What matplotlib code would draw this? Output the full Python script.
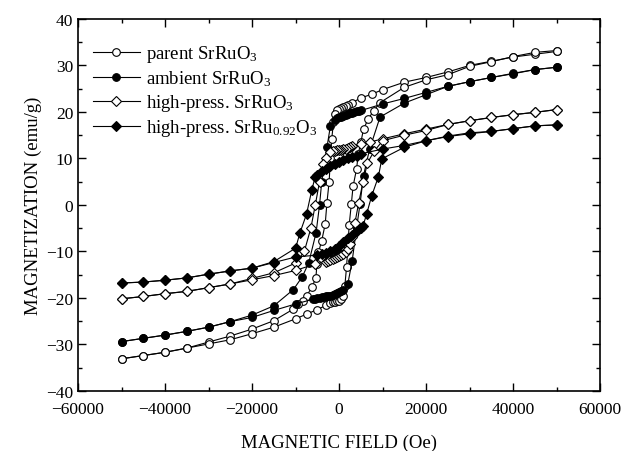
import matplotlib
matplotlib.use("Agg")
import matplotlib.pyplot as plt
from matplotlib.ticker import MultipleLocator

plt.rcParams['font.family'] = ['Liberation Serif', 'DejaVu Serif']
plt.rcParams['mathtext.fontset'] = 'custom'
plt.rcParams['mathtext.rm'] = 'Liberation Serif'
plt.rcParams['mathtext.default'] = 'regular'

# parent SrRuO3 (open circles)
parent_h_down = [50000, 45000, 40000, 35000, 30000, 25000, 20000, 15000, 10000, 7500, 5000, 3000, 2000,
                 1500, 1000, 500, 0, -500, -1000, -1300, -1700, -2000, -2300, -2800, -3200, -4000,
                 -4750, -5100, -5350, -6300, -7400, -8350, -9350, -10500, -15000, -20000, -25000,
                 -30000, -35000, -40000, -45000, -50000]
parent_m_down = [33.0, 32.4, 31.8, 30.9, 30.0, 28.6, 27.4, 26.4, 24.8, 23.8, 23.0, 22.0, 21.5,
                 21.2, 21.0, 20.8, 20.6, 20.4, 19.6, 17.8, 14.2, 10.0, 5.0, 0.5, -4.1, -7.7,
                 -10.2, -12.7, -15.8, -17.7, -19.5, -20.6, -21.3, -22.4, -24.9, -26.7, -28.2,
                 -29.5, -30.8, -31.7, -32.4, -33.1]
parent_h_up = [-50000, -45000, -40000, -35000, -30000, -25000, -20000, -15000, -10000, -7500, -5000,
               -3000, -2000, -1500, -1000, -500, 0, 500, 1000, 1300, 1700, 2000, 2300, 2800, 3200,
               4000, 4400, 5000, 5600, 6700, 7900, 9400, 15000, 20000, 25000, 30000, 35000, 40000,
               45000, 50000]
parent_m_up = [-33.1, -32.4, -31.7, -30.8, -29.9, -29.0, -27.7, -26.3, -24.5, -23.5, -22.5,
               -21.6, -21.1, -20.9, -20.8, -20.7, -20.6, -20.2, -19.5, -17.5, -13.4, -9.0, -4.4, 0.2,
               4.0, 7.7, 11.0, 13.5, 16.3, 18.5, 20.2, 22.0, 25.3, 26.9, 28.0, 29.8, 30.8, 31.9,
               32.8, 33.2]

# ambient SrRuO3 (filled circles)
amb_h_down = [50000, 45000, 40000, 35000, 30000, 25000, 20000, 15000, 10000, 5000, 4500, 4000, 3500,
              3000, 2500, 2000, 1500, 1000, 500, 0, -500, -1000, -2000, -2800, -4000, -4500, -5300,
              -7000, -8500, -10500, -15000, -20000, -25000, -30000, -35000, -40000, -45000, -50000]
amb_m_down = [29.6, 29.1, 28.3, 27.4, 26.5, 25.5, 24.2, 22.9, 21.7, 20.3, 20.2, 20.1, 20.0,
              19.8, 19.7, 19.5, 19.4, 19.2, 19.0, 18.8, 18.6, 18.3, 17.0, 12.4, 5.0, 0.0, -6.0,
              -12.5, -15.5, -18.2, -21.7, -23.7, -25.1, -26.3, -27.2, -28.0, -28.7, -29.4]
amb_h_up = [-50000, -45000, -40000, -35000, -30000, -25000, -20000, -15000, -10000, -6000, -5500,
            -5000, -4500, -4000, -3500, -3000, -2500, -2000, -1500, -1000, -500, 0, 500, 1000, 2000,
            3000, 4000, 4800, 5600, 7000, 9400, 15000, 20000, 25000, 30000, 35000, 40000, 45000, 50000]
amb_m_up = [-29.4, -28.7, -28.0, -27.2, -26.3, -25.1, -24.2, -22.7, -21.3, -20.3, -20.2,
            -20.1, -20.0, -19.9, -19.8, -19.7, -19.6, -19.5, -19.4, -19.2, -19.0, -18.8, -18.6, -18.3,
            -17.0, -12.0, -5.0, 0.2, 6.3, 12.0, 18.9, 21.9, 23.7, 25.5, 26.5, 27.4, 28.2, 29.1, 29.6]

# high-press. SrRuO3 (open diamonds)
hp_h_down = [50000, 45000, 40000, 35000, 30000, 25000, 20000, 15000, 10000, 7000, 5000, 3000, 2500,
             2000, 1500, 1000, 500, 0, -500, -1000, -1500, -2000, -3000, -3600, -4500, -5500, -6500,
             -8000, -10000, -15000, -20000, -25000, -30000, -35000, -40000, -45000, -50000]
hp_m_down = [20.5, 19.9, 19.4, 18.8, 18.1, 17.3, 16.3, 15.3, 14.2, 13.5, 13.0, 12.6, 12.4,
             12.3, 12.1, 12.0, 11.9, 11.8, 11.7, 11.6, 11.5, 11.4, 10.0, 8.8, 5.0, -0.1, -5.0,
             -10.0, -12.5, -14.6, -15.8, -17.0, -17.8, -18.6, -19.1, -19.7, -20.2]
hp_h_up = [-50000, -45000, -40000, -35000, -30000, -25000, -20000, -15000, -10000, -5500, -3000,
           -2500, -2000, -1500, -1000, -500, 0, 500, 1000, 1500, 2000, 2500, 3000, 3600, 4500, 5500,
           6500, 8000, 10000, 15000, 20000, 25000, 30000, 35000, 40000, 45000, 50000]
hp_m_up = [-20.2, -19.7, -19.1, -18.6, -17.8, -17.0, -16.1, -15.2, -14.1, -12.7, -12.2,
           -12.0, -11.8, -11.6, -11.4, -11.2, -11.0, -10.8, -10.5, -10.2, -9.5, -8.5, -7.0, -4.0,
           0.5, 5.0, 9.0, 11.5, 13.8, 15.0, 16.0, 17.3, 18.1, 18.8, 19.4, 19.9, 20.5]

# high-press. SrRu0.92O3 (filled diamonds)
hp92_h_down = [50000, 45000, 40000, 35000, 30000, 25000, 20000, 15000, 10000, 5000, 4000, 3000, 2000,
               1000, 0, -1000, -2000, -3000, -4000, -5000, -5500, -6300, -7500, -9000, -10000,
               -15000, -20000, -25000, -30000, -35000, -40000, -45000, -50000]
hp92_m_down = [17.2, 17.0, 16.4, 15.8, 15.3, 14.7, 13.8, 12.8, 12.0, 11.0, 10.6, 10.3, 10.0,
               9.6, 9.2, 8.8, 8.3, 7.8, 7.2, 6.5, 6.1, 3.1, -2.0, -6.0, -9.3,
               -12.2, -13.6, -14.2, -14.9, -15.7, -16.2, -16.6, -16.8]
hp92_h_up = [-50000, -45000, -40000, -35000, -30000, -25000, -20000, -15000, -10000, -5000, -4000,
             -3000, -2000, -1000, 0, 1000, 2000, 3000, 4000, 5000, 5500, 6300, 7500, 9000, 9800,
             15000, 20000, 25000, 30000, 35000, 40000, 45000, 50000]
hp92_m_up = [-16.8, -16.6, -16.2, -15.7, -14.9, -14.2, -13.6, -12.4, -11.2, -10.8, -10.5,
             -10.3, -10.0, -9.4, -8.8, -8.0, -7.2, -6.4, -5.6, -5.0, -4.5, -2.0, 2.0, 6.0, 9.9,
             12.4, 13.8, 14.8, 15.5, 15.8, 16.4, 17.0, 17.2]

series = [
    ('parent SrRuO$_3$', parent_h_down, parent_m_down, parent_h_up, parent_m_up, 'o', 'white', 5.5),
    ('ambient SrRuO$_3$', amb_h_down, amb_m_down, amb_h_up, amb_m_up, 'o', 'black', 5.5),
    ('high-press. SrRuO$_3$', hp_h_down, hp_m_down, hp_h_up, hp_m_up, 'D', 'white', 5),
    ('high-press. SrRu$_{0.92}$O$_3$', hp92_h_down, hp92_m_down, hp92_h_up, hp92_m_up, 'D', 'black', 5),
]

fig, ax = plt.subplots(figsize=(6.24, 4.52), dpi=100)
fig.subplots_adjust(left=0.125, right=0.962, top=0.956, bottom=0.133)

for label, hd, md, hu, mu, mk, fc, ms in series:
    ax.plot(hd, md, '-', color='black', lw=0.8, marker=mk, mfc=fc, mec='black',
            ms=ms, mew=0.8, label=label)
    ax.plot(hu, mu, '-', color='black', lw=0.8, marker=mk, mfc=fc, mec='black',
            ms=ms, mew=0.8)

ax.set_xlim(-60000, 60000)
ax.set_ylim(-40, 40)
ax.xaxis.set_major_locator(MultipleLocator(20000))
ax.xaxis.set_minor_locator(MultipleLocator(10000))
ax.yaxis.set_major_locator(MultipleLocator(10))
ax.yaxis.set_minor_locator(MultipleLocator(5))
ax.tick_params(which='both', direction='in', top=True, right=True, labelsize=12.5, width=1)
ax.tick_params(which='major', length=6)
ax.tick_params(which='minor', length=3)
ax.tick_params(axis='x', pad=7)
for sp in ax.spines.values():
    sp.set_linewidth(1.2)

ax.set_xlabel('MAGNETIC FIELD (Oe)', fontsize=13.5, labelpad=12)
ax.set_ylabel('MAGNETIZATION (emu/g)', fontsize=13.5, labelpad=3)

ax.legend(loc='upper left', frameon=False, fontsize=13.5, handlelength=2.5,
          handletextpad=0.3, labelspacing=0.22, borderaxespad=0.4,
          bbox_to_anchor=(0.0, 0.975))

fig.savefig('out.png', dpi=100)
